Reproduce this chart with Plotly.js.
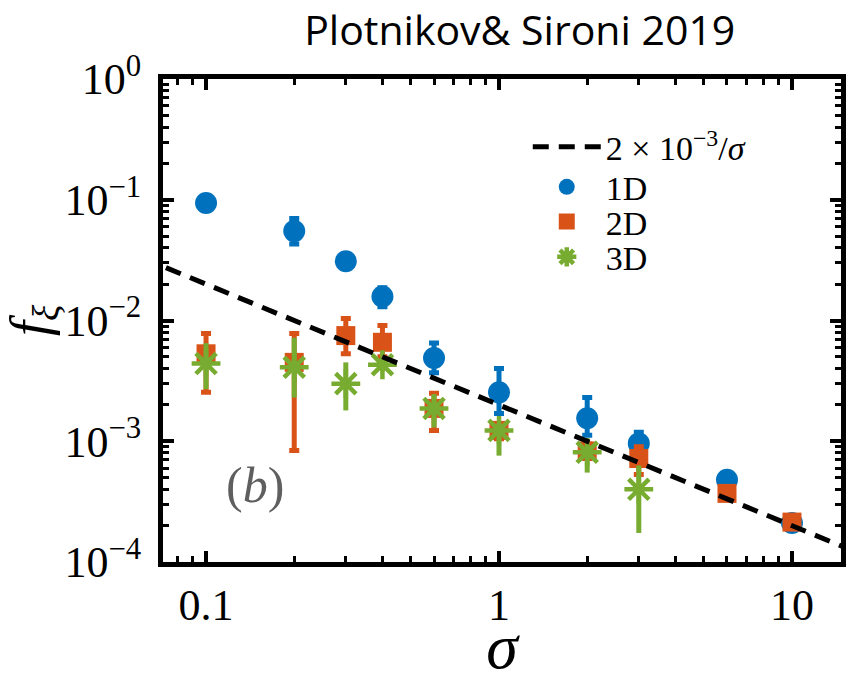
<!DOCTYPE html>
<html>
<head>
<meta charset="utf-8">
<script src="https://cdn.plot.ly/plotly-3.0.1.min.js"></script>
<style>
  html, body { margin: 0; padding: 0; background: #ffffff; }
  #chart { width: 852px; height: 682px; }
</style>
</head>
<body>
<div id="chart"></div>
<script>
// Width parameter sigma for every run
const sigma = [0.1, 0.2, 0.3, 0.4, 0.6, 1, 2, 3, 6, 10];

// 1D runs: f_xi with upper / lower error bounds
const f1D    = [0.094, 0.055, 0.031, 0.0158, 0.0049, 0.00254, 0.00155, 0.00096, 0.00048, 0.00021];
const f1D_hi = [0.100, 0.070, 0.033, 0.0187, 0.0065, 0.0040, 0.0023, 0.00119, 0.00052, 0.00023];
const f1D_lo = [0.088, 0.043, 0.029, 0.0130, 0.0037, 0.0017, 0.00112, 0.00085, 0.00044, 0.00019];

// 2D runs
const f2D    = [0.0053, 0.0045, 0.0075, 0.0066, 0.00187, 0.00123, 0.00083, 0.00072, 0.00037, 0.000214];
const f2D_hi = [0.0078, 0.0078, 0.0104, 0.0091, 0.0025, 0.0014, 0.00095, 0.00090, 0.00041, 0.00023];
const f2D_lo = [0.00254, 0.00084, 0.0053, 0.0050, 0.00123, 0.00105, 0.00072, 0.00053, 0.00034, 0.00020];

// 3D runs (sigma up to 3)
const sigma3D = [0.1, 0.2, 0.3, 0.4, 0.6, 1, 2, 3];
const f3D    = [0.0044, 0.0041, 0.0030, 0.0043, 0.00187, 0.00123, 0.00081, 0.00040];
const f3D_hi = [0.0065, 0.0072, 0.0045, 0.0048, 0.0024, 0.0014, 0.00095, 0.00063];
const f3D_lo = [0.0027, 0.0023, 0.0018, 0.0038, 0.0013, 0.00076, 0.00055, 0.000174];

// Reference scaling f = A / sigma
const scaleA = 2e-3;
const lineSigma = [0.05, 20];

// Axis tick labels
const xTickVals = [0.1, 1, 10];
const xTickText = ['0.1', '1', '10'];
const yTickVals = [1e-4, 1e-3, 1e-2, 1e-1, 1];
const yTickText = ['10<sup>−4</sup>', '10<sup>−3</sup>', '10<sup>−2</sup>', '10<sup>−1</sup>', '10<sup>0</sup>'];

const BLUE = '#0072BD', ORANGE = '#D95319', GREEN = '#77AC30';
const SERIF = 'Liberation Serif, Times New Roman, serif';

function errs(vals, hi, lo) {
  return {
    type: 'data', symmetric: false,
    array: vals.map((v, i) => hi[i] - v),
    arrayminus: vals.map((v, i) => v - lo[i])
  };
}

const traces = [
  {
    x: sigma, y: f1D, type: 'scatter', mode: 'markers', name: '1D', legend: 'legend2',
    marker: { symbol: 'circle', size: 22, color: BLUE },
    error_y: Object.assign(errs(f1D, f1D_hi, f1D_lo), { color: BLUE, thickness: 5, width: 5 })
  },
  {
    x: sigma, y: f2D, type: 'scatter', mode: 'markers', name: '2D', legend: 'legend3',
    marker: { symbol: 'square', size: 19, color: ORANGE },
    error_y: Object.assign(errs(f2D, f2D_hi, f2D_lo), { color: ORANGE, thickness: 5, width: 5 })
  },
  {
    x: sigma3D, y: f3D, type: 'scatter', mode: 'markers', name: '3D', legend: 'legend4',
    marker: { symbol: 'asterisk-open', size: 24, color: GREEN, line: { color: GREEN, width: 4.5 } },
    error_y: Object.assign(errs(f3D, f3D_hi, f3D_lo), { color: GREEN, thickness: 5, width: 0 })
  },
  {
    x: lineSigma, y: lineSigma.map(s => scaleA / s), type: 'scatter', mode: 'lines',
    name: '2 × 10<sup>−3</sup>/<i>σ</i>', legend: 'legend',
    line: { color: '#000000', width: 5, dash: '16px,10px' }
  }
];

const axisCommon = {
  type: 'log',
  showgrid: false, zeroline: false,
  showline: true, linecolor: '#000000', linewidth: 5,
  mirror: 'ticks',
  ticks: 'inside', ticklen: 11, tickwidth: 4, tickcolor: '#000000',
  tickmode: 'array',
  tickfont: { family: SERIF, size: 44, color: '#000000' },
  minor: { ticks: 'inside', ticklen: 6, tickwidth: 3, tickcolor: '#000000', dtick: 'D1', showgrid: false }
};

// One legend box per entry so each row sits at its own height
function legendBox(yc) {
  return {
    x: 0.538, y: yc, xanchor: 'left', yanchor: 'middle',
    bgcolor: 'rgba(255,255,255,0)', borderwidth: 0,
    font: { family: SERIF, size: 34, color: '#000000' },
    itemwidth: 68, tracegroupgap: 0
  };
}

const layout = {
  width: 852, height: 682,
  paper_bgcolor: '#ffffff', plot_bgcolor: '#ffffff',
  margin: { l: 163, r: 11, t: 79, b: 120 },
  showlegend: true,
  title: {
    text: 'Plotnikov& Sironi 2019',
    font: { family: 'Open Sans, Lato, sans-serif', size: 41, color: '#000000' },
    x: 0.61, xanchor: 'center', xref: 'container',
    y: 0.955, yanchor: 'middle', yref: 'container'
  },
  xaxis: Object.assign({}, axisCommon, {
    range: [Math.log10(0.0713), Math.log10(14.7)],
    tickvals: xTickVals, ticktext: xTickText,
    ticklabelstandoff: 0,
    title: { text: '<i>σ</i>', font: { family: SERIF, size: 64, color: '#000000' }, standoff: 32 }
  }),
  yaxis: Object.assign({}, axisCommon, {
    range: [-4, 0],
    tickvals: yTickVals, ticktext: yTickText,
    ticklabelstandoff: 8,
    title: { text: '<i>f</i><sub><i>ξ</i></sub>', font: { family: SERIF, size: 54, color: '#000000' }, standoff: 0 }
  }),
  legend: legendBox(0.859),
  legend2: legendBox(0.776),
  legend3: legendBox(0.704),
  legend4: legendBox(0.631),
  annotations: [
    {
      xref: 'paper', yref: 'paper', x: 0.135, y: 0.16,
      xanchor: 'center', yanchor: 'middle',
      text: '(<i>b</i>)', showarrow: false,
      font: { family: SERIF, size: 50, color: '#5f5f5f' }
    }
  ]
};

Plotly.newPlot('chart', traces, layout, { staticPlot: true, displayModeBar: false });
</script>
</body>
</html>
